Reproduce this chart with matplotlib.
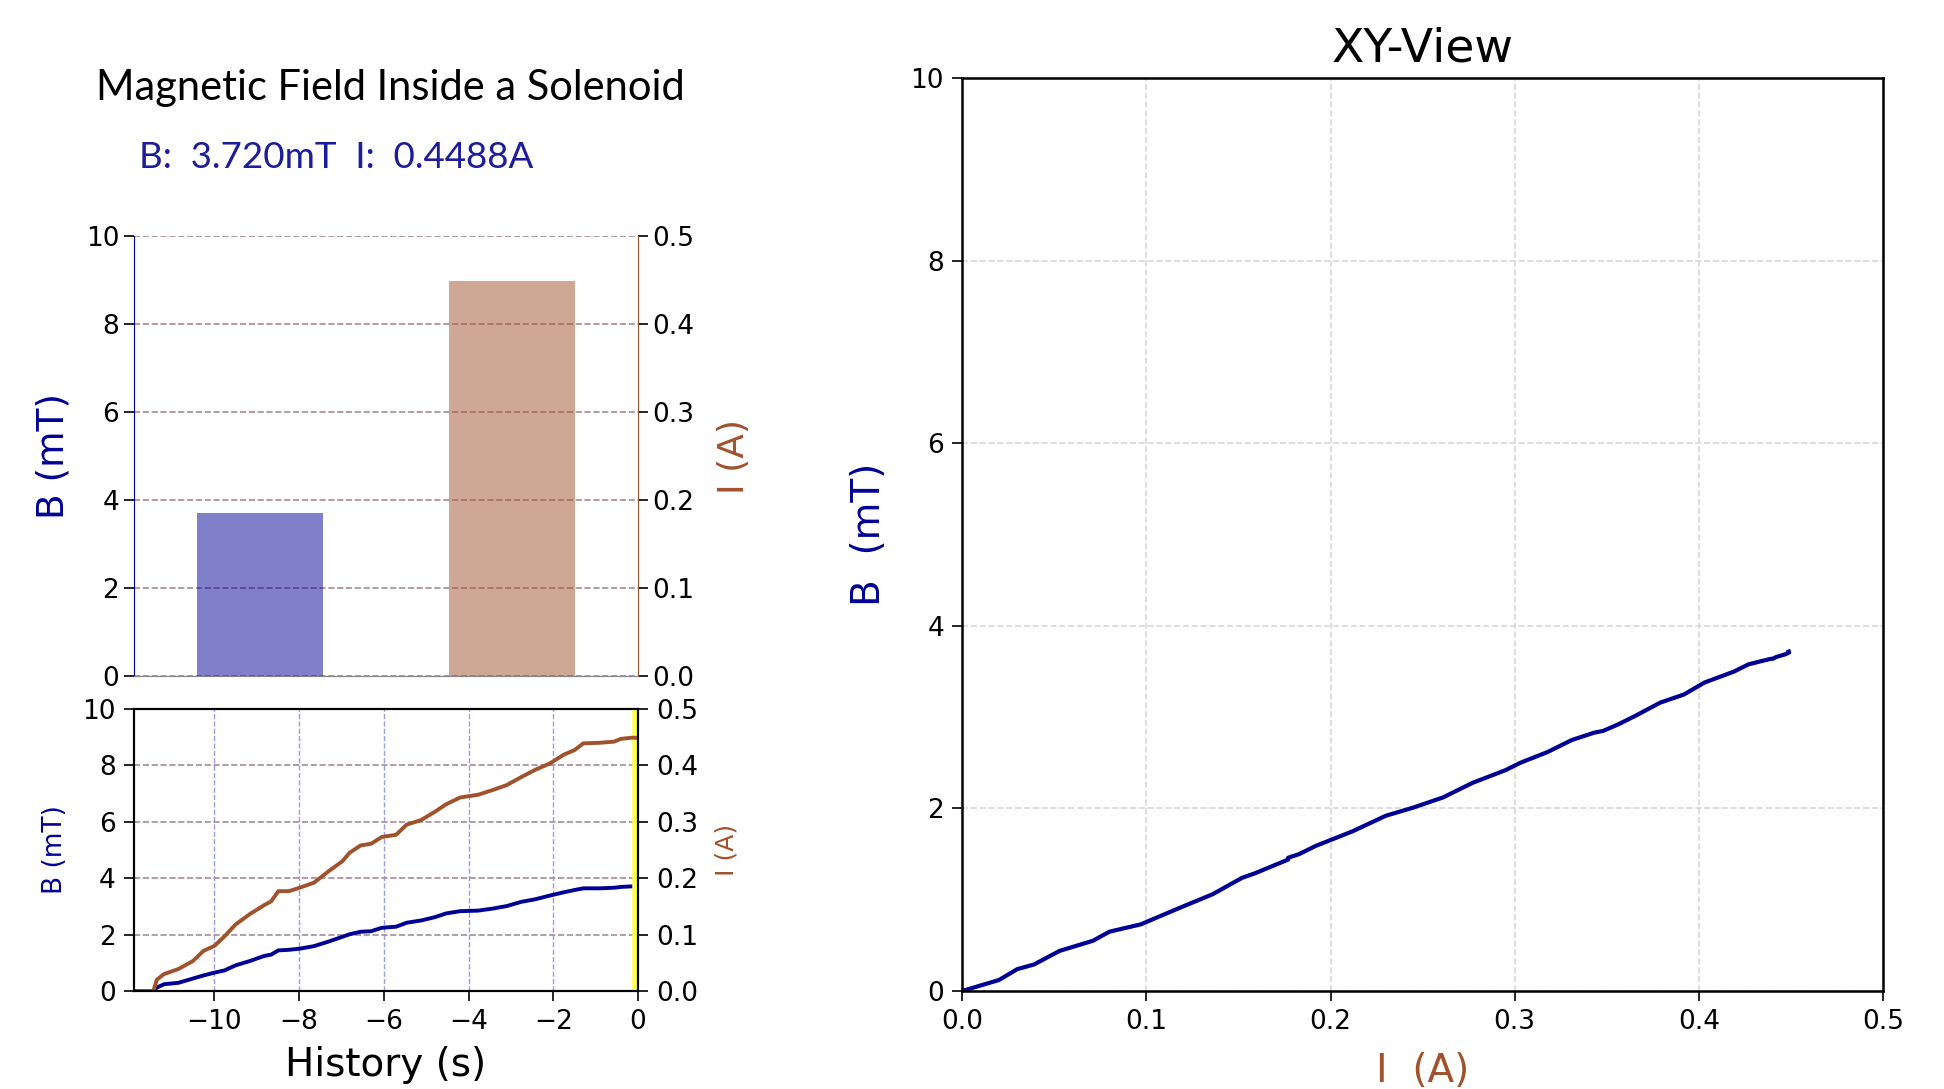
import numpy as np
import matplotlib
matplotlib.use("Agg")
import matplotlib.pyplot as plt

# history
t_hist = [-11.9, -11.44, -11.36, -11.19, -10.85, -10.51, -10.26, -10.0, -9.76, -9.50,
          -9.17, -8.83, -8.66, -8.49, -8.24, -7.99, -7.65, -7.31, -6.98, -6.81,
          -6.55, -6.30, -6.05, -5.71, -5.46, -5.12, -4.79, -4.53, -4.20, -3.77,
          -3.44, -3.10, -2.76, -2.43, -2.09, -1.75, -1.50, -1.29, -0.91, -0.57,
          -0.40, -0.15, 0.0]
i_hist = [0, 0, 0.020, 0.030, 0.039, 0.053, 0.071, 0.080, 0.097, 0.118,
          0.136, 0.152, 0.159, 0.177, 0.177, 0.183, 0.192, 0.212, 0.230, 0.245,
          0.258, 0.261, 0.273, 0.277, 0.295, 0.303, 0.318, 0.331, 0.343, 0.348,
          0.356, 0.365, 0.379, 0.392, 0.403, 0.419, 0.427, 0.439, 0.440, 0.442,
          0.447, 0.449, 0.4488]
b_hist = [0, 0, 0.12, 0.24, 0.29, 0.44, 0.55, 0.65, 0.73, 0.91,
          1.06, 1.24, 1.29, 1.44, 1.46, 1.50, 1.59, 1.75, 1.92, 2.01,
          2.10, 2.12, 2.24, 2.28, 2.42, 2.50, 2.62, 2.75, 2.83, 2.85,
          2.92, 3.01, 3.16, 3.25, 3.38, 3.50, 3.58, 3.64, 3.64, 3.66,
          3.69, 3.71, 3.72]

b_now = 3.720
i_now = 0.4488

B_COL = "#000096"
I_COL = "sienna"
GRID_COL = "#a88a98"

plt.rcParams["font.family"] = "DejaVu Sans"
fig = plt.figure(figsize=(19.44, 10.89), dpi=100)

# ---- bar panel
ax1 = fig.add_axes([0.0689, 0.379, 0.2593, 0.404])
ax1b = ax1.twinx()
ax1.bar([0], [b_now], width=0.5, color=B_COL, alpha=0.5)
ax1b.bar([1], [i_now], width=0.5, color=I_COL, alpha=0.5)
ax1.set_xlim(-0.5, 1.5)
ax1.set_ylim(0, 10)
ax1b.set_ylim(0, 0.5)
ax1.set_xticks([])
ax1.set_yticks([0, 2, 4, 6, 8, 10])
ax1b.set_yticks([0, 0.1, 0.2, 0.3, 0.4, 0.5])
ax1.yaxis.grid(True, ls="--", color=GRID_COL, lw=1.2)
ax1.set_axisbelow(True)
for a in (ax1, ax1b):
    a.spines["top"].set_visible(False)
    a.spines["bottom"].set_color("#888888")
    a.tick_params(axis="y", labelsize=19, length=7, width=1.2)
ax1.spines["left"].set_color(B_COL)
ax1.spines["right"].set_visible(False)
ax1b.spines["left"].set_visible(False)
ax1b.spines["right"].set_color(I_COL)
ax1.set_ylabel("B (mT)", color=B_COL, fontsize=27, labelpad=10)
ax1b.set_ylabel("I (A)", color=I_COL, fontsize=26, labelpad=16)

fig.text(0.2006, 0.919, "Magnetic Field Inside a Solenoid", fontsize=30,
         family="Lato", ha="center", va="center")
fig.text(0.0715, 0.855, "B:  %.3fmT  I:  %.4fA" % (b_now, i_now), fontsize=26.5,
         family="Lato", color="#1c1c9c", ha="left", va="center")

# ---- history panel
ax2 = fig.add_axes([0.0689, 0.090, 0.2593, 0.259])
ax2b = ax2.twinx()
ax2.plot(t_hist, b_hist, color=B_COL, lw=2.8)
ax2b.plot(t_hist, i_hist, color=I_COL, lw=2.8)
ax2.axvline(0, color="#ffff50", lw=9)
ax2.set_xlim(-11.9, 0)
ax2.set_ylim(0, 10)
ax2b.set_ylim(0, 0.5)
ax2.set_xticks([-10, -8, -6, -4, -2, 0])
ax2.set_xticklabels(["\u221210", "\u22128", "\u22126", "\u22124", "\u22122", "0"])
ax2.set_yticks([0, 2, 4, 6, 8, 10])
ax2b.set_yticks([0, 0.1, 0.2, 0.3, 0.4, 0.5])
ax2.xaxis.grid(True, ls="--", color="#9c9ce0", lw=1)
ax2.yaxis.grid(True, ls="--", color=GRID_COL, lw=1.2)
for a in (ax2, ax2b):
    a.tick_params(labelsize=19, length=7, width=1.2, pad=6)
    for s in a.spines.values():
        s.set_linewidth(1.5)
ax2.set_xlabel("History (s)", fontsize=28, labelpad=8)
ax2.set_ylabel("B (mT)", color=B_COL, fontsize=19, labelpad=10)
ax2b.set_ylabel("I (A)", color=I_COL, fontsize=18, labelpad=12)

# ---- XY view
ax3 = fig.add_axes([0.4949, 0.090, 0.4738, 0.838])
ax3.plot(i_hist, b_hist, color=B_COL, lw=3)
ax3.set_xlim(0, 0.5)
ax3.set_ylim(0, 10)
ax3.set_xticks([0, 0.1, 0.2, 0.3, 0.4, 0.5])
ax3.set_yticks([0, 2, 4, 6, 8, 10])
ax3.grid(True, ls="--", color="#d8d8d8", lw=1.2)
ax3.tick_params(labelsize=19, length=7, width=1.2, pad=6)
for s in ax3.spines.values():
    s.set_linewidth(1.8)
ax3.set_title("XY-View", fontsize=34, pad=12)
ax3.set_xlabel("I  (A)", color=I_COL, fontsize=28, labelpad=12)
ax3.set_ylabel("B  (mT)", color=B_COL, fontsize=28, labelpad=16)

fig.savefig("out.png", dpi=100)
